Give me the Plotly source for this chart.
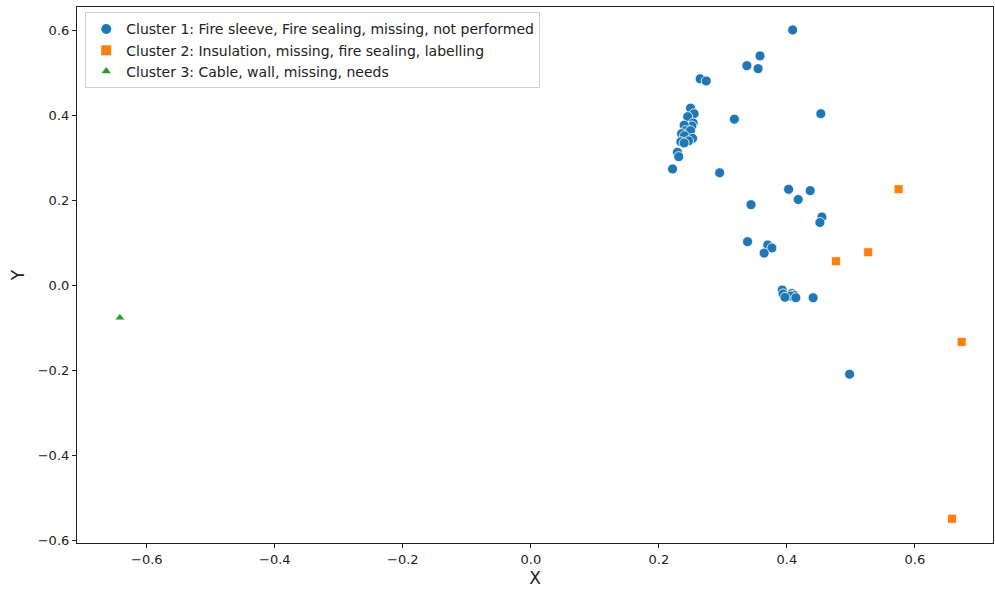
import plotly.graph_objects as go

# Cluster 1
c1_x = [0.409, 0.358, 0.3375, 0.355, 0.2645, 0.274, 0.318, 0.453, 0.2495, 0.255,
        0.245, 0.2536, 0.2516, 0.2395, 0.2417, 0.2495, 0.2355, 0.240, 0.2527, 0.2464,
        0.2344, 0.2395, 0.229, 0.231, 0.2214, 0.295, 0.4027, 0.4364, 0.4177, 0.344,
        0.4547, 0.4516, 0.3386, 0.370, 0.3766, 0.3645, 0.3927, 0.394, 0.408, 0.411,
        0.406, 0.414, 0.397, 0.441, 0.498]
c1_y = [0.602, 0.541, 0.518, 0.511, 0.487, 0.482, 0.392, 0.405, 0.418, 0.405,
        0.398, 0.383, 0.376, 0.378, 0.365, 0.365, 0.358, 0.353, 0.347, 0.341,
        0.339, 0.336, 0.314, 0.304, 0.275, 0.266, 0.227, 0.224, 0.203, 0.191,
        0.162, 0.149, 0.104, 0.096, 0.089, 0.077, -0.010, -0.019, -0.018, -0.022,
        -0.024, -0.028, -0.027, -0.028, -0.208]
# Cluster 2
c2_x = [0.5745, 0.527, 0.4766, 0.673, 0.658]
c2_y = [0.2275, 0.079, 0.058, -0.132, -0.548]
# Cluster 3
c3_x = [-0.642]
c3_y = [-0.075]

names = ["Cluster 1: Fire sleeve, Fire sealing, missing, not performed",
         "Cluster 2: Insulation, missing, fire sealing, labelling",
         "Cluster 3: Cable, wall, missing, needs"]

ticks = [-0.6, -0.4, -0.2, 0.0, 0.2, 0.4, 0.6]

fig = go.Figure()
fig.add_trace(go.Scatter(x=c1_x, y=c1_y, mode="markers", name=names[0],
                         marker=dict(symbol="circle", size=10, color="#1f77b4",
                                     line=dict(color="white", width=0.8))))
fig.add_trace(go.Scatter(x=c2_x, y=c2_y, mode="markers", name=names[1],
                         marker=dict(symbol="square", size=9, color="#ff7f0e",
                                     line=dict(color="white", width=0.8))))
fig.add_trace(go.Scatter(x=c3_x, y=c3_y, mode="markers", name=names[2],
                         marker=dict(symbol="triangle-up", size=9, color="#2ca02c",
                                     line=dict(color="white", width=0.8))))

axis_common = dict(showgrid=False, zeroline=False, showline=True, linecolor="#222",
                   linewidth=1.2, mirror=True, ticks="outside", ticklen=4,
                   tickcolor="#222", tickwidth=1, tickformat=".1f",
                   tickvals=ticks, tickfont=dict(family="DejaVu Sans", size=13, color="#222"))

fig.update_layout(
    width=995, height=590,
    margin=dict(l=77, r=2, t=7, b=47),
    paper_bgcolor="white", plot_bgcolor="white",
    font=dict(family="DejaVu Sans", color="#222"),
    xaxis=dict(range=[-0.709, 0.722],
               title=dict(text="X", font=dict(size=17), standoff=6), **axis_common),
    yaxis=dict(range=[-0.605, 0.656],
               title=dict(text="Y", font=dict(size=17), standoff=8), **axis_common),
    legend=dict(x=0.009, y=0.99, xanchor="left", yanchor="top",
                bgcolor="rgba(255,255,255,0.9)", bordercolor="#d0d0d0", borderwidth=1,
                font=dict(family="DejaVu Sans", size=14, color="#222"),
                itemsizing="constant", tracegroupgap=0),
    showlegend=True,
)

fig.write_html("out.html")
